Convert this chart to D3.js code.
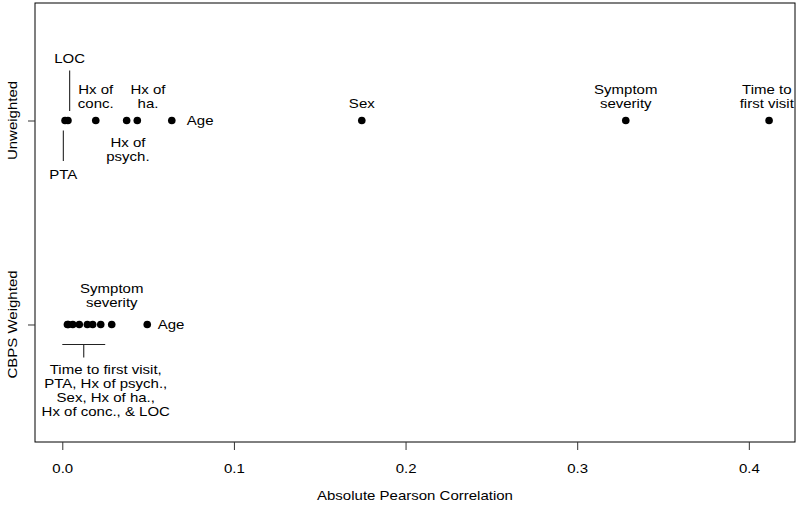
<!DOCTYPE html>
<html>
<head>
<meta charset="utf-8">
<script src="https://cdn.jsdelivr.net/npm/d3@7"></script>
<style>
  html, body { margin: 0; padding: 0; background: #fff; }
  svg { display: block; }
  text { font-family: "Liberation Sans", Arial, Helvetica, sans-serif; fill: #000; }
</style>
</head>
<body>
<svg id="chart" width="800" height="512"></svg>
<script>
// ---------- data ----------
const categories = ["Unweighted", "CBPS Weighted"];
const covariates = ["Age", "Sex", "Symptom severity", "Time to first visit", "PTA", "LOC",
                    "Hx of conc.", "Hx of psych.", "Hx of ha."];
const unweighted   = [0.0638, 0.1745, 0.3283, 0.4118, 0.0016, 0.0033, 0.0195, 0.0375, 0.0437];
const cbpsWeighted = [0.0495, 0.0099, 0.0288, 0.0035, 0.0030, 0.0224, 0.0177, 0.0061, 0.0146];
const xTicks = [0, 0.1, 0.2, 0.3, 0.4];
const xTitle = "Absolute Pearson Correlation";
const groupedLabel = ["Time to first visit,", "PTA, Hx of psych.,", "Sex, Hx of ha.,", "Hx of conc., & LOC"];

// ---------- layout ----------
const box = {left: 35, right: 795, top: 3, bottom: 442};
const FS = 13.4, SX = 1.12, LH = 14;
const svg = d3.select("#chart");

const x = d3.scaleLinear().domain([-0.0159, 0.4269]).range([box.left, box.right]);
const y = d3.scalePoint().domain(categories).range([box.top, box.bottom]).padding(0.576);

function txt(px, py, s, anchor = "middle", g = svg) {
  return g.append("text")
    .attr("transform", `translate(${px},${py}) scale(${SX},1)`)
    .attr("text-anchor", anchor)
    .style("font-size", FS + "px")
    .text(s);
}
function lines(px, firstBaseline, arr, anchor = "middle", lh = LH) {
  arr.forEach((s, i) => txt(px, firstBaseline + i * lh, s, anchor));
}
function seg(x1, y1, x2, y2) {
  svg.append("line").attr("x1", x1).attr("y1", y1).attr("x2", x2).attr("y2", y2)
    .attr("stroke", "#222").attr("stroke-width", 1.1);
}

// box
svg.append("rect").attr("x", box.left).attr("y", box.top)
  .attr("width", box.right - box.left).attr("height", box.bottom - box.top)
  .attr("fill", "none").attr("stroke", "#000").attr("stroke-width", 1);

// x axis
const xa = svg.append("g").attr("transform", `translate(0,${box.bottom})`)
  .call(d3.axisBottom(x).tickValues(xTicks).tickFormat(d3.format(".1f")).tickSize(8).tickPadding(13));
xa.select(".domain").remove();
xa.selectAll(".tick line").attr("stroke", "#333");
xa.selectAll(".tick text").style("font-size", FS + "px")
  .attr("transform", `scale(${SX},1)`).attr("fill", "#000");
xa.attr("font-family", null).attr("font-size", null);

// y axis
const ya = svg.append("g").attr("transform", `translate(${box.left},0)`)
  .call(d3.axisLeft(y).tickSize(7).tickFormat(""));
ya.select(".domain").remove();
ya.selectAll(".tick line").attr("stroke", "#333");
categories.forEach(c => {
  svg.append("text")
    .attr("transform", `translate(17,${y(c)}) rotate(-90) scale(${SX},1)`)
    .attr("text-anchor", "middle").style("font-size", FS + "px").text(c);
});

// axis title
txt((box.left + box.right) / 2, 500, xTitle);

// points
const series = [unweighted, cbpsWeighted];
series.forEach((vals, si) => {
  svg.append("g").selectAll("circle").data(vals).join("circle")
    .attr("cx", d => x(d)).attr("cy", y(categories[si])).attr("r", 3.8).attr("fill", "#000");
});

// ---------- annotations: Unweighted ----------
const yu = y(categories[0]);
const U = name => x(unweighted[covariates.indexOf(name)]);
txt(U("Age") + 15, yu + 4.6, "Age", "start");
txt(U("Sex"), yu - 12.5, "Sex");
lines(U("Symptom severity"), yu - 12.5 - LH, ["Symptom", "severity"]);
lines(U("Time to first visit") - 2.3, yu - 12.5 - LH, ["Time to", "first visit"]);
lines(U("Hx of conc."), yu - 12.5 - LH, ["Hx of", "conc."]);
lines(U("Hx of ha.") + 10.7, yu - 12.5 - LH, ["Hx of", "ha."]);
lines(U("Hx of psych.") + 1.3, yu + 26, ["Hx of", "psych."]);
seg(U("LOC") + 1.7, yu - 50, U("LOC") + 1.7, yu - 9.5);
txt(U("LOC") + 1.7, yu - 57.5, "LOC");
seg(U("PTA") - 1.7, yu + 10, U("PTA") - 1.7, yu + 40.5);
txt(U("PTA") - 1.7, yu + 58, "PTA");

// ---------- annotations: CBPS Weighted ----------
const yc = y(categories[1]);
const C = name => x(cbpsWeighted[covariates.indexOf(name)]);
txt(C("Age") + 10.5, yc + 4.6, "Age", "start");
lines(C("Symptom severity"), yc - 31, ["Symptom", "severity"]);
const bracket = [0, 0.025];
const bx0 = x(bracket[0]), bx1 = x(bracket[1]), bmid = (bx0 + bx1) / 2;
seg(bx0, yc + 20, bx1, yc + 20);
seg(bmid, yc + 20, bmid, yc + 33);
lines(bmid + 22, yc + 50, groupedLabel, "middle", 13.7);
</script>
</body>
</html>
